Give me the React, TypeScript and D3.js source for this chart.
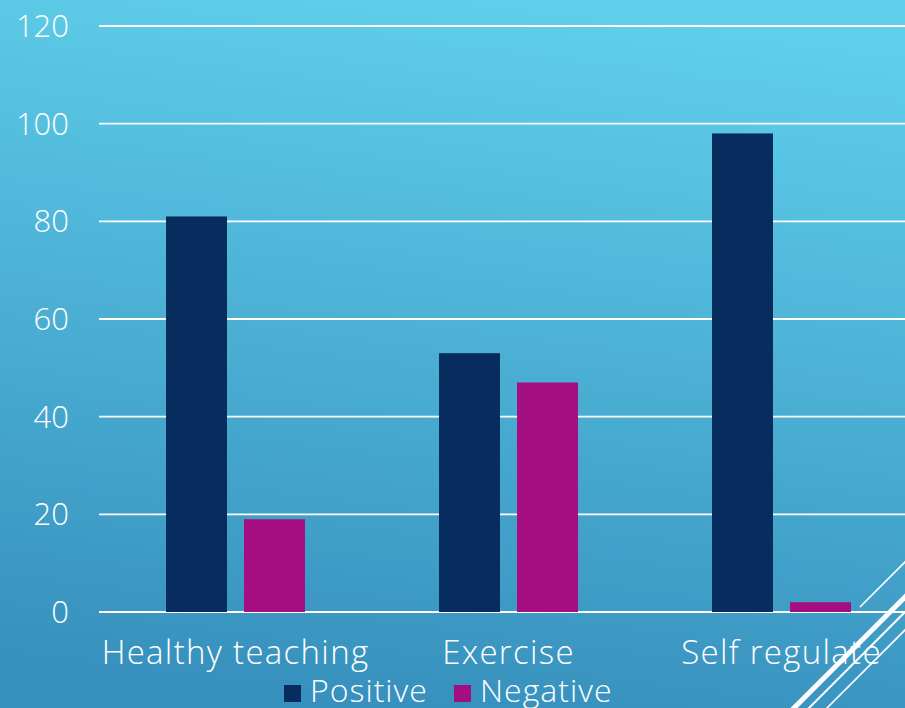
import React from "react";
import * as d3 from "d3";

const categories = ["Healthy teaching", "Exercise", "Self regulate"];
const seriesNames = ["Positive", "Negative"];
const positiveValues = [81, 53, 98];
const negativeValues = [19, 47, 2];
const yTicks = [0, 20, 40, 60, 80, 100, 120];
const seriesColors = ["#062D5E", "#A50E81"];

const W = 905;
const H = 708;
const FONT = "'Open Sans', 'DejaVu Sans', sans-serif";

export default function App() {
  const x0 = d3.scaleBand<string>().domain(categories).range([99, 918]).padding(0);
  const bw = x0.bandwidth();
  const groupW = bw * 0.509;
  const groupOff = (bw - groupW) / 2;
  const x1 = d3.scaleBand<string>().domain(seriesNames).range([0, groupW]).paddingInner(0.218).paddingOuter(0);
  const y = d3.scaleLinear().domain([0, 120]).range([612, 26]);
  const seriesValues = [positiveValues, negativeValues];

  const diag = (sum: number, xStart: number) => {
    return { x1: xStart, y1: sum - xStart, x2: W + 20, y2: sum - (W + 20) };
  };
  const lines = [
    { ...diag(1502, 780), w: 5 },
    { ...diag(1517, 795), w: 2 },
    { ...diag(1535, 815), w: 1.6 },
    { ...diag(1467, 860), w: 1.6 },
  ];

  return (
    <svg
      width={W}
      height={H}
      style={{ position: "fixed", left: 0, top: 0, display: "block" }}
      fontFamily={FONT}
      fontWeight={300}
    >
      <defs>
        <linearGradient id="bg" x1="0.42" y1="1" x2="0.58" y2="0">
          <stop offset="0" stopColor="#3790BD" />
          <stop offset="1" stopColor="#5FCFEB" />
        </linearGradient>
      </defs>
      <rect x={0} y={0} width={W} height={H} fill="url(#bg)" />

      {yTicks.map((t) => (
        <g key={t}>
          <line x1={99} x2={W} y1={y(t)} y2={y(t)} stroke="#FFFFFF" strokeWidth={1.8} />
          <text x={69} y={y(t)} dy="0.36em" textAnchor="end" fill="#FFFFFF" fontSize={31}>
            {t}
          </text>
        </g>
      ))}

      {categories.map((c, ci) => (
        <g key={c} transform={`translate(${(x0(c) ?? 0) + groupOff},0)`}>
          {seriesNames.map((s, si) => (
            <rect
              key={s}
              x={x1(s)}
              y={y(seriesValues[si][ci])}
              width={x1.bandwidth()}
              height={y(0) - y(seriesValues[si][ci])}
              fill={seriesColors[si]}
            />
          ))}
        </g>
      ))}

      {categories.map((c) => (
        <text
          key={c}
          x={(x0(c) ?? 0) + bw / 2}
          y={664}
          textAnchor="middle"
          fill="#FFFFFF"
          fontSize={33}
          letterSpacing={1.3}
        >
          {c}
        </text>
      ))}

      {lines.map((l, i) => (
        <line key={i} x1={l.x1} y1={l.y1} x2={l.x2} y2={l.y2} stroke="#FFFFFF" strokeWidth={l.w} />
      ))}

      <g>
        <rect x={284} y={685} width={17} height={17} fill={seriesColors[0]} />
        <text x={310} y={702} fill="#FFFFFF" fontSize={32} letterSpacing={1}>{seriesNames[0]}</text>
        <rect x={454} y={685} width={17} height={17} fill={seriesColors[1]} />
        <text x={480} y={702} fill="#FFFFFF" fontSize={32} letterSpacing={1}>{seriesNames[1]}</text>
      </g>
    </svg>
  );
}
